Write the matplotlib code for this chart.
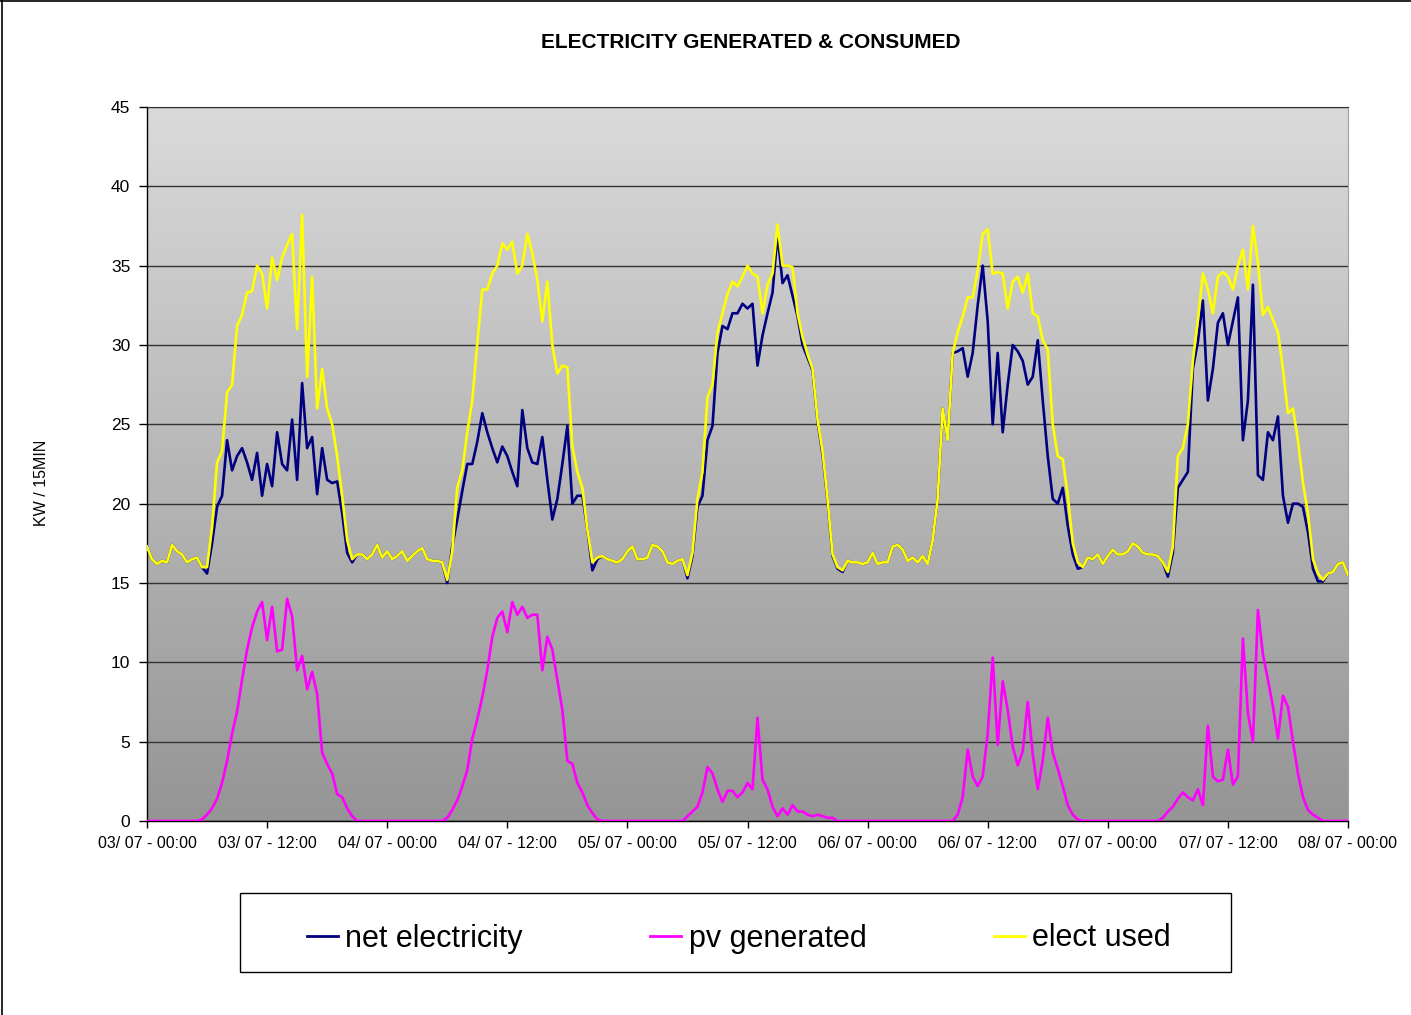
import numpy as np
import matplotlib
matplotlib.use("Agg")
import matplotlib.pyplot as plt
from matplotlib.colors import LinearSegmentedColormap
from matplotlib.patches import Rectangle
from matplotlib.lines import Line2D

plt.rcParams['font.family'] = ['Liberation Sans', 'DejaVu Sans']

# half-hourly readings, 48 per day (03/07 .. 07/07) + closing value at 08/07 00:00
used_d1 = [17.3, 16.5, 16.2, 16.4, 16.3, 17.4, 17.0, 16.8, 16.3, 16.5, 16.6, 16.0,
           16.0, 18.5, 22.6, 23.3, 27.0, 27.5, 31.2, 31.9, 33.3, 33.4, 35.0, 34.5,
           32.3, 35.5, 34.1, 35.5, 36.3, 37.0, 31.0, 38.2, 28.0, 34.3, 26.0, 28.5,
           26.0, 25.0, 23.0, 20.5, 17.7, 16.5, 16.8, 16.8, 16.5, 16.8, 17.4, 16.6]
used_d2 = [17.0, 16.5, 16.7, 17.0, 16.4, 16.7, 17.0, 17.2, 16.5, 16.4, 16.4, 16.3,
           15.2, 17.0, 21.0, 22.1, 24.5, 26.5, 30.1, 33.5, 33.5, 34.5, 35.0, 36.4,
           36.0, 36.5, 34.5, 35.0, 37.0, 35.8, 34.1, 31.5, 34.0, 30.0, 28.2, 28.7,
           28.6, 23.6, 22.0, 21.0, 18.4, 16.3, 16.6, 16.7, 16.5, 16.4, 16.3, 16.5]
used_d3 = [17.0, 17.3, 16.5, 16.5, 16.6, 17.4, 17.3, 17.0, 16.3, 16.2, 16.4, 16.5,
           15.5, 16.9, 20.3, 22.0, 26.7, 27.5, 30.8, 32.0, 33.2, 34.0, 33.7, 34.3,
           35.0, 34.5, 34.3, 32.0, 33.8, 34.5, 37.6, 35.0, 35.0, 34.9, 32.0, 30.5,
           29.4, 28.5, 25.3, 23.3, 20.3, 16.8, 16.0, 15.8, 16.4, 16.3, 16.3, 16.2]
used_d4 = [16.3, 16.9, 16.2, 16.3, 16.3, 17.3, 17.4, 17.1, 16.4, 16.6, 16.3, 16.7,
           16.2, 17.7, 20.3, 26.0, 24.0, 29.5, 30.8, 31.8, 33.0, 33.0, 34.7, 37.0,
           37.3, 34.5, 34.6, 34.5, 32.3, 34.0, 34.3, 33.3, 34.5, 32.0, 31.8, 30.3,
           29.7, 25.0, 23.0, 22.8, 20.5, 17.5, 16.3, 16.0, 16.6, 16.5, 16.8, 16.2]
used_d5 = [16.7, 17.1, 16.8, 16.8, 17.0, 17.5, 17.3, 16.9, 16.8, 16.8, 16.7, 16.3,
           15.7, 17.3, 23.0, 23.5, 25.0, 29.0, 31.6, 34.5, 33.5, 32.0, 34.3, 34.6,
           34.3, 33.5, 35.0, 36.0, 33.5, 37.5, 35.2, 31.9, 32.4, 31.6, 30.8, 28.5,
           25.7, 26.0, 24.0, 21.3, 19.4, 16.5, 15.6, 15.2, 15.6, 15.7, 16.2, 16.3, 15.5]

net_d1 = [17.3, 16.5, 16.2, 16.4, 16.3, 17.4, 17.0, 16.8, 16.3, 16.5, 16.6, 16.0,
          15.6, 17.5, 19.8, 20.5, 24.0, 22.1, 23.0, 23.5, 22.6, 21.5, 23.2, 20.5,
          22.5, 21.1, 24.5, 22.5, 22.1, 25.3, 21.5, 27.6, 23.5, 24.2, 20.6, 23.5,
          21.5, 21.3, 21.4, 19.4, 16.9, 16.3, 16.8, 16.8, 16.5, 16.8, 17.4, 16.6]
net_d2 = [17.0, 16.5, 16.7, 17.0, 16.4, 16.7, 17.0, 17.2, 16.5, 16.4, 16.4, 16.3,
          15.0, 17.3, 19.0, 20.8, 22.5, 22.5, 23.9, 25.7, 24.5, 23.5, 22.6, 23.6,
          23.0, 22.0, 21.1, 25.9, 23.5, 22.6, 22.5, 24.2, 21.5, 19.0, 20.3, 22.5,
          24.9, 20.0, 20.5, 20.5, 18.4, 15.8, 16.5, 16.7, 16.5, 16.4, 16.3, 16.5]
net_d3 = [17.0, 17.3, 16.5, 16.5, 16.6, 17.4, 17.3, 17.0, 16.3, 16.2, 16.4, 16.5,
          15.3, 16.7, 19.8, 20.5, 24.0, 24.9, 29.5, 31.2, 31.0, 32.0, 32.0, 32.6,
          32.3, 32.6, 28.7, 30.6, 32.0, 33.3, 37.0, 33.9, 34.4, 33.1, 31.8, 30.0,
          29.2, 28.4, 25.2, 23.1, 20.2, 16.7, 15.9, 15.7, 16.4, 16.3, 16.3, 16.2]
net_d4 = [16.3, 16.9, 16.2, 16.3, 16.3, 17.3, 17.4, 17.1, 16.4, 16.6, 16.3, 16.7,
          16.2, 17.7, 20.3, 26.0, 24.0, 29.5, 29.6, 29.8, 28.0, 29.5, 32.5, 35.0,
          31.5, 25.0, 29.5, 24.5, 27.5, 30.0, 29.6, 29.0, 27.5, 28.0, 30.3, 26.5,
          23.0, 20.3, 20.0, 21.0, 18.6, 16.8, 15.9, 16.0, 16.6, 16.5, 16.8, 16.2]
net_d5 = [16.7, 17.1, 16.8, 16.8, 17.0, 17.5, 17.3, 16.9, 16.8, 16.8, 16.7, 16.3,
          15.4, 16.9, 21.0, 21.5, 22.0, 28.5, 30.2, 32.8, 26.5, 28.5, 31.4, 32.0,
          30.0, 31.5, 33.0, 24.0, 26.5, 33.8, 21.8, 21.5, 24.5, 24.0, 25.5, 20.5,
          18.8, 20.0, 20.0, 19.8, 18.2, 15.9, 15.1, 15.1, 15.6, 15.7, 16.2, 16.3, 15.5]

pv_d1 = [0, 0, 0, 0, 0, 0, 0, 0, 0, 0, 0, 0.1,
         0.4, 0.8, 1.4, 2.4, 3.8, 5.5, 6.9, 8.9, 10.8, 12.2, 13.2, 13.8,
         11.4, 13.5, 10.7, 10.8, 14.0, 12.9, 9.5, 10.4, 8.3, 9.4, 8.0, 4.3,
         3.6, 3.0, 1.7, 1.5, 0.8, 0.3, 0, 0, 0, 0, 0, 0]
pv_d2 = [0, 0, 0, 0, 0, 0, 0, 0, 0, 0, 0, 0,
         0.2, 0.7, 1.3, 2.2, 3.2, 5.2, 6.4, 7.8, 9.5, 11.6, 12.8, 13.2,
         11.9, 13.8, 13.0, 13.5, 12.8, 13.0, 13.0, 9.5, 11.6, 10.8, 8.9, 7.0,
         3.8, 3.6, 2.4, 1.8, 1.0, 0.5, 0.1, 0, 0, 0, 0, 0]
pv_d3 = [0, 0, 0, 0, 0, 0, 0, 0, 0, 0, 0, 0,
         0.3, 0.6, 0.9, 1.8, 3.4, 3.0, 2.0, 1.2, 1.9, 1.9, 1.5, 1.8,
         2.4, 2.0, 6.5, 2.6, 2.0, 0.9, 0.3, 0.8, 0.4, 1.0, 0.6, 0.6,
         0.4, 0.3, 0.4, 0.3, 0.2, 0.2, 0, 0, 0, 0, 0, 0]
pv_d4 = [0, 0, 0, 0, 0, 0, 0, 0, 0, 0, 0, 0,
         0, 0, 0, 0, 0, 0, 0.4, 1.5, 4.5, 2.8, 2.2, 2.8,
         5.5, 10.3, 4.8, 8.8, 7.0, 4.7, 3.5, 4.4, 7.5, 4.2, 2.0, 3.8,
         6.5, 4.3, 3.3, 2.2, 1.0, 0.4, 0.1, 0, 0, 0, 0, 0]
pv_d5 = [0, 0, 0, 0, 0, 0, 0, 0, 0, 0, 0, 0.2,
         0.6, 0.9, 1.4, 1.8, 1.5, 1.3, 2.0, 1.0, 6.0, 2.8, 2.5, 2.6,
         4.5, 2.3, 2.8, 11.5, 6.8, 5.0, 13.3, 10.5, 8.9, 7.2, 5.2, 7.9,
         7.2, 5.0, 3.0, 1.5, 0.7, 0.4, 0.2, 0, 0, 0, 0, 0, 0]

tick_labels = ['03/ 07 - 00:00', '03/ 07 - 12:00', '04/ 07 - 00:00', '04/ 07 - 12:00',
               '05/ 07 - 00:00', '05/ 07 - 12:00', '06/ 07 - 00:00', '06/ 07 - 12:00',
               '07/ 07 - 00:00', '07/ 07 - 12:00', '08/ 07 - 00:00']

net = np.array(net_d1 + net_d2 + net_d3 + net_d4 + net_d5)
pv = np.array(pv_d1 + pv_d2 + pv_d3 + pv_d4 + pv_d5)
used = np.array(used_d1 + used_d2 + used_d3 + used_d4 + used_d5)
hours = np.arange(len(used)) * 0.5

W, H = 1411, 1015
fig = plt.figure(figsize=(W / 100, H / 100), dpi=100)
ax = fig.add_axes([147 / W, 1 - 821 / H, (1348 - 147) / W, (821 - 107) / H])

# grey gradient plot area
cmap = LinearSegmentedColormap.from_list('bg', ['#959595', '#dadada'])
ax.imshow(np.linspace(0, 1, 256).reshape(-1, 1), cmap=cmap, aspect='auto',
          origin='lower', extent=[0, 120, 0, 45], zorder=0)

ax.plot(hours, net, color='#000080', lw=1.9, zorder=3)
ax.plot(hours, pv, color='#ff00ff', lw=1.9, zorder=3)
ax.plot(hours, used, color='#ffff00', lw=1.9, zorder=4)

ax.set_xlim(0, 120)
ax.set_ylim(0, 45)
ax.set_yticks(np.arange(0, 46, 5))
ax.set_xticks(np.arange(0, 121, 12))
ax.set_xticklabels(tick_labels, fontsize=11.5)
ax.tick_params(axis='y', labelsize=12.5, length=6, width=1, pad=6)
ax.tick_params(axis='x', length=5, width=1, pad=6)
ax.set_axisbelow(True)
ax.yaxis.grid(True, color='#333333', lw=1)
for s in ['left', 'bottom']:
    ax.spines[s].set_color('black')
    ax.spines[s].set_linewidth(1)
ax.spines['top'].set_color('#333333')
ax.spines['right'].set_color('#a0a0a0')

fig.text(751 / W, 1 - 42 / H, 'ELECTRICITY GENERATED & CONSUMED',
         ha='center', va='center', fontsize=15, fontweight='bold')
fig.text(42 / W, 1 - 483 / H, 'KW / 15MIN', rotation=90,
         ha='center', va='center', fontsize=11.5)

# legend box
fig.patches.append(Rectangle((240 / W, 1 - 972 / H), 991 / W, 79 / H,
                             transform=fig.transFigure, fill=False,
                             edgecolor='black', lw=1))
handles = [Line2D([], [], color='#000080', lw=2),
           Line2D([], [], color='#ff00ff', lw=2),
           Line2D([], [], color='#ffff00', lw=2)]
fig.legend(handles, ['net electricity', 'pv generated', 'elect used'],
           ncol=3, mode='expand', loc='center', frameon=False, borderpad=0,
           borderaxespad=0,
           bbox_to_anchor=(307 / W, 1 - 978 / H, (1171 - 307) / W, 79 / H),
           fontsize=22, handlelength=1.0, handletextpad=0.25)

# outer border of the chart
fig.add_artist(Line2D([2 / W, 2 / W], [0, 1], color='black', lw=1.2))
fig.add_artist(Line2D([0, 1], [1 - 1 / H, 1 - 1 / H], color='black', lw=1.2))

fig.savefig('out.png', dpi=100)
